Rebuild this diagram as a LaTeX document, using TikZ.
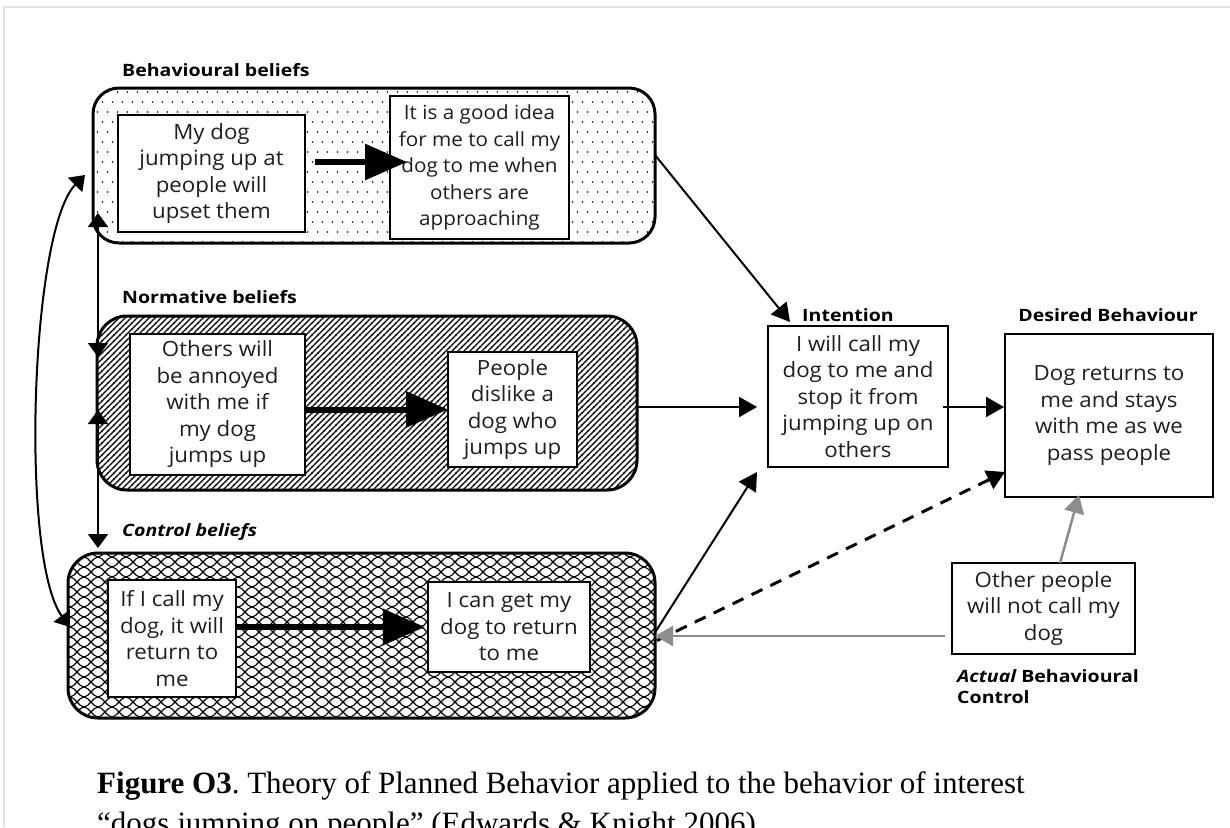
\documentclass[tikz,border=0pt]{standalone}
\usepackage{fontspec}
\setmainfont{Liberation Serif}
\newfontfamily\boxfont[FakeStretch=1.06]{Open Sans}
\newfontfamily\tagfont[FakeStretch=1.15]{Open Sans}
\usetikzlibrary{arrows.meta,patterns,calc}

% fill patterns for the three belief groups
\pgfdeclarepatternformonly{sparsedots}{\pgfqpoint{-1pt}{-1pt}}{\pgfqpoint{11pt}{21pt}}{\pgfqpoint{10pt}{20pt}}{%
  \pgfpathcircle{\pgfqpoint{2.5pt}{5pt}}{0.85pt}%
  \pgfpathcircle{\pgfqpoint{7.5pt}{15pt}}{0.85pt}%
  \pgfusepath{fill}}
\pgfdeclarepatternformonly{densehatch}{\pgfqpoint{-1pt}{-1pt}}{\pgfqpoint{7pt}{7pt}}{\pgfqpoint{6pt}{6pt}}{%
  \pgfsetlinewidth{1.1pt}%
  \pgfpathmoveto{\pgfqpoint{-0.5pt}{-0.5pt}}\pgfpathlineto{\pgfqpoint{6.5pt}{6.5pt}}%
  \pgfusepath{stroke}}
\pgfdeclarepatternformonly{wicker}{\pgfqpoint{-1pt}{-1pt}}{\pgfqpoint{15pt}{11pt}}{\pgfqpoint{14pt}{10pt}}{%
  \pgfsetlinewidth{1.1pt}%
  \pgfpathmoveto{\pgfqpoint{0pt}{0pt}}%
  \pgfpathcurveto{\pgfqpoint{5pt}{0pt}}{\pgfqpoint{9pt}{10pt}}{\pgfqpoint{14pt}{10pt}}%
  \pgfpathmoveto{\pgfqpoint{0pt}{10pt}}%
  \pgfpathcurveto{\pgfqpoint{5pt}{10pt}}{\pgfqpoint{9pt}{0pt}}{\pgfqpoint{14pt}{0pt}}%
  \pgfusepath{stroke}}

\definecolor{greyline}{HTML}{8C8C8C}
\definecolor{framegrey}{HTML}{E2E2E2}
\definecolor{boxtext}{HTML}{1E1E1E}

\tikzset{
  grp/.style={draw, line width=3pt, inner sep=0pt, outer sep=0pt},
  box/.style={draw, line width=2.6pt, fill=white, inner sep=0pt, outer sep=0pt,
    align=center, text=boxtext, font=\boxfont\fontsize{21}{26.5}\selectfont},
  smallbox/.style={box, font=\boxfont\fontsize{19.5}{26.5}\selectfont},
  tag/.style={font=\tagfont\bfseries\fontsize{17}{21}\selectfont, inner sep=0pt},
  bigarrow/.style={line width=6pt, -{Triangle[length=42pt,width=35pt]}},
  thinarrow/.style={line width=2pt, -{Triangle[length=18pt,width=20pt]}},
  dasharrow/.style={line width=3pt, dash pattern=on 12pt off 9pt, -{Triangle[length=18pt,width=20pt]}},
  greyarrow/.style={line width=2.5pt, greyline, -{Triangle[length=18pt,width=20pt]}},
  linkarrow/.style={line width=2pt, {Triangle[length=14pt,width=20pt]}-{Triangle[length=14pt,width=20pt]}},
  caption/.style={anchor=base west, inner sep=0pt, font=\fontsize{31}{36}\selectfont}
}

\begin{document}
\begin{tikzpicture}[x=1pt, y=-1pt]
\useasboundingbox (0,0) rectangle (1230,827);
\clip (0,0) rectangle (1230,827);
\fill[white] (0,0) rectangle (1230,827);
\draw[framegrey, line width=1.5pt] (4,827) -- (4,7) -- (1230,7);

% belief groups
\node[grp, pattern=sparsedots, rounded corners=26pt, minimum width=562pt, minimum height=155pt] (grpB) at (374,165.5) {};
\node[grp, pattern=densehatch, rounded corners=30pt, minimum width=540pt, minimum height=174pt] (grpN) at (367,403) {};
\node[grp, pattern=wicker, rounded corners=30pt, minimum width=587pt, minimum height=165pt] (grpC) at (361.5,635.5) {};

\node[tag, anchor=west] (tagB) at (122,70) {Behavioural beliefs};
\node[tag, anchor=west] (tagN) at (122,297) {Normative beliefs};
\node[tag, anchor=west] (tagC) at (122,532) {\itshape Control beliefs};

% boxes
\node[box, minimum width=187pt, minimum height=117pt] (A1) at (211.5,173.5) {My dog\\jumping up at\\people will\\upset them};
\node[smallbox, minimum width=179pt, minimum height=143pt] (A2) at (479.5,167.5) {It is a good idea\\for me to call my\\dog to me when\\others are\\approaching};
\node[box, minimum width=175pt, minimum height=141pt] (N1) at (217.5,404.5) {Others will\\be annoyed\\with me if\\my dog\\jumps up};
\node[box, minimum width=129pt, minimum height=115pt] (N2) at (512.5,409.5) {People\\dislike a\\dog who\\jumps up};
\node[box, minimum width=128pt, minimum height=117pt] (C1) at (172,638.5) {If I call my\\dog, it will\\return to\\me};
\node[box, minimum width=162pt, minimum height=90pt] (C2) at (509,627) {I can get my\\dog to return\\to me};

\node[box, minimum width=180pt, minimum height=141pt] (Int) at (858,396.5) {I will call my\\dog to me and\\stop it from\\jumping up on\\others};
\node[box, minimum width=208pt, minimum height=163pt] (Des) at (1109,415.5) {Dog returns to\\me and stays\\with me as we\\pass people};
\node[box, minimum width=183pt, minimum height=91pt] (Oth) at (1043.5,608.5) {Other people\\will not call my\\dog};

\node[tag] (tagI) at (848,315) {Intention};
\node[tag] (tagD) at (1108,315) {Desired Behaviour};
\node[tag, anchor=north west, align=left] (tagA) at (957,669) {\itshape Actual\upshape{} Behavioural\\Control};

% arrows inside the groups
\draw[bigarrow] ([xshift=10pt,yshift=11.5pt]A1.east) -- ([xshift=17pt,yshift=5.5pt]A2.west);
\draw[bigarrow] (N1.east |- N2.west) -- (N2.west);
\draw[bigarrow] (C1.east |- C2.west) -- ([xshift=-3pt]C2.west);

% links between the groups
\draw[linkarrow] ([xshift=5pt,yshift=30pt]grpB.south west) -- ([xshift=1pt,yshift=-41pt]grpN.north west);
\draw[linkarrow] ([xshift=1pt,yshift=80pt]grpN.south west) -- ([xshift=30pt,yshift=5pt]grpC.north west);
\draw[linkarrow] ([xshift=-8pt,yshift=-9.5pt]grpB.west) .. controls (30,230) and (20,560) .. ([xshift=2pt,yshift=8.5pt]grpC.west);

% towards intention and behaviour
\draw[thinarrow] ([yshift=10.5pt]grpB.east) -- ([xshift=22pt,yshift=4pt]Int.north west);
\draw[thinarrow] ([yshift=-4pt]grpN.east) -- ([xshift=-11pt,yshift=-10.5pt]Int.west);
\draw[thinarrow] ([xshift=-5pt,yshift=-10.5pt]Int.east) -- ([xshift=-1pt,yshift=8.5pt]Des.west);
\draw[thinarrow] ([yshift=3pt]grpC.east) -- ([xshift=-11pt,yshift=-5pt]Int.south west);
\draw[dasharrow] ([xshift=2pt,yshift=-5pt]grpC.east) -- ([yshift=-56.5pt]Des.west);

% actual behavioural control
\draw[greyarrow] ([xshift=-7pt,yshift=-27.5pt]Oth.west) -- ([yshift=-0.5pt]grpC.east);
\draw[greyarrow] ([xshift=16.5pt]Oth.north) -- ([xshift=-30pt,yshift=2pt]Des.south);

% caption
\node[caption] (cap1) at (97,793) {\textbf{Figure O3}.\ Theory of Planned Behavior applied to the behavior of interest};
\node[caption] (cap2) at (97,833) {“dogs jumping on people” (Edwards \& Knight 2006).};
\end{tikzpicture}
\end{document}
